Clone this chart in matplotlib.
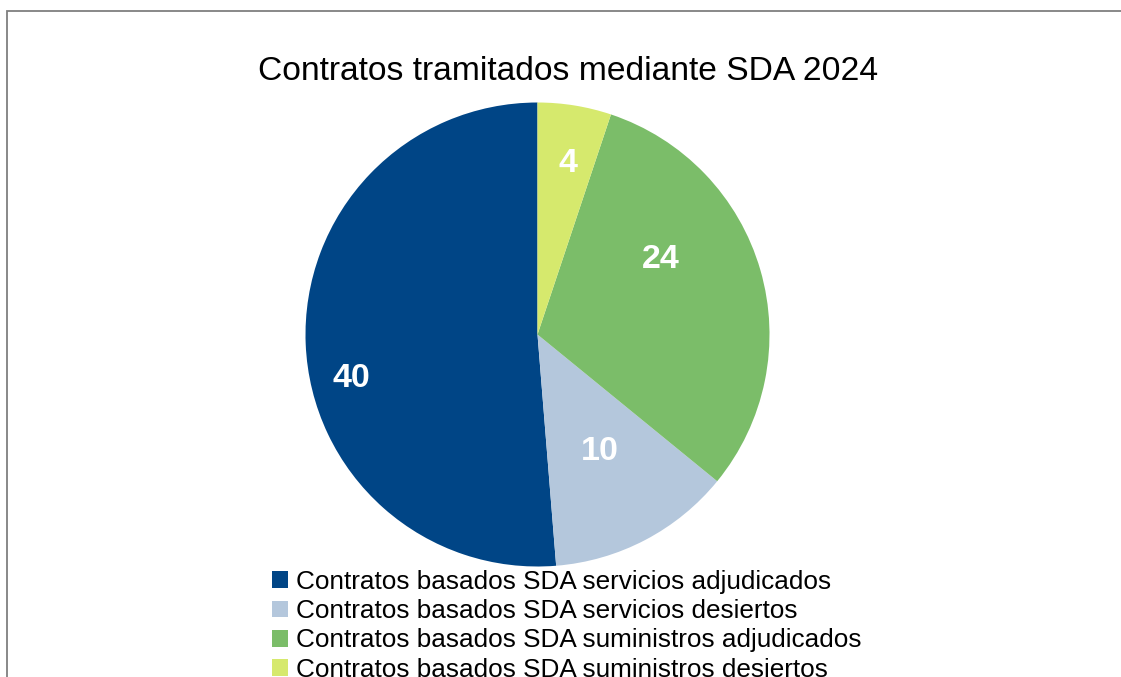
import matplotlib.pyplot as plt
import matplotlib.patches as mpatches
import matplotlib.transforms as mtransforms
import numpy as np

plt.rcParams['font.family'] = ['Liberation Sans', 'DejaVu Sans']

# data
categorias = ['Contratos basados SDA servicios adjudicados',
              'Contratos basados SDA servicios desiertos',
              'Contratos basados SDA suministros adjudicados',
              'Contratos basados SDA suministros desiertos']
valores = [40, 10, 24, 4]
colores = ['#004586', '#b4c7dc', '#7bbd69', '#d6e96d']
titulo = 'Contratos tramitados mediante SDA 2024'

# label placement inside each wedge: (fraction along the arc, radius)
label_frac = [0.555, 0.52, 0.646, 0.46]
label_rad = [0.82, 0.56, 0.63, 0.76]

W, H = 1121, 677
fig = plt.figure(figsize=(W / 100, H / 100), dpi=100)

# outer frame (cut off at right and bottom in the reference)
frame = mpatches.Rectangle((7 / W, -0.1), 1.2, (H - 11) / H + 0.1, transform=fig.transFigure,
                           fill=False, edgecolor='#7f7f7f', linewidth=1.3)
fig.add_artist(frame)

cx, cy, r = 537.5, H - 334.5, 232
ax = fig.add_axes([(cx - r) / W, (cy - r) / H, 2 * r / W, 2 * r / H])
wedges, _ = ax.pie(valores, colors=colores, startangle=90, counterclock=True,
                   radius=1, wedgeprops=dict(linewidth=0))
ax.set_xlim(-1, 1)
ax.set_ylim(-1, 1)
ax.set_aspect('equal')
ax.axis('off')

tr = mtransforms.offset_copy(ax.transData, fig=fig, x=0, y=-3, units='dots')
for w, v, f, rr in zip(wedges, valores, label_frac, label_rad):
    ang = np.deg2rad(w.theta1 + f * (w.theta2 - w.theta1))
    ax.text(rr * np.cos(ang), rr * np.sin(ang), str(v), ha='center', va='center',
            color='white', fontsize=24.5, fontweight='bold', transform=tr)

fig.text(568 / W, (H - 80) / H, titulo, ha='center', va='baseline', fontsize=24.2)

leg = fig.legend(wedges, categorias, loc='upper left', bbox_to_anchor=(272 / W, (H - 570) / H),
                 frameon=False, fontsize=18.8, handlelength=0.62, handleheight=0.62,
                 handletextpad=0.3, labelspacing=0.2, borderpad=0, borderaxespad=0)

fig.savefig('out.png', dpi=100)
